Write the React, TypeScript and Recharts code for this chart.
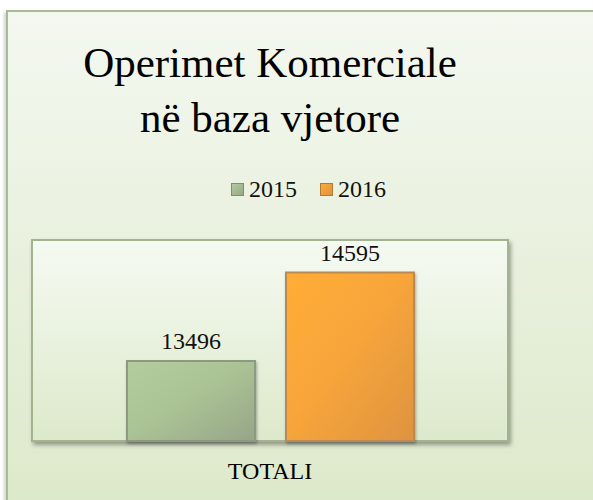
import React from "react";
import { BarChart, Bar, XAxis, YAxis, ReferenceArea, LabelList, Legend } from "recharts";

const categories = ["TOTALI"];
const series2015 = [13496];
const series2016 = [14595];
const seriesNames = ["2015", "2016"];
const titleLines = ["Operimet Komerciale", "në baza vjetore"];
const valueDomain: [number, number] = [12500, 15000];

const data = categories.map((c, i) => ({ name: c, v2015: series2015[i], v2016: series2016[i] }));

const FONT = "'Liberation Serif', 'Times New Roman', serif";

const legendItems = [
  { name: seriesNames[0], fill: "url(#leg2015)", border: "#7f9070" },
  { name: seriesNames[1], fill: "url(#leg2016)", border: "#b07a35" },
];

const LegendContent = () => (
  <div style={{ display: "flex", fontFamily: FONT, fontSize: 24, lineHeight: "28px", color: "#111" }}>
    {legendItems.map((it, i) => (
      <div key={it.name} style={{ display: "flex", alignItems: "flex-start", marginRight: i === 0 ? 23 : 0 }}>
        <svg width={13} height={13} style={{ marginTop: 8, marginRight: 5 }}>
          <rect x={0.5} y={0.5} width={12} height={12} fill={it.fill} stroke={it.border} strokeWidth={1} />
        </svg>
        <span>{it.name}</span>
      </div>
    ))}
  </div>
);

export default function App() {
  return (
    <div style={{ position: "absolute", left: 0, top: 0, width: 593, height: 500, overflow: "hidden", background: "#fff" }}>
      <svg width={0} height={0} style={{ position: "absolute" }}>
        <defs>
          <linearGradient id="plotGrad" x1="0" y1="0" x2="0" y2="1">
            <stop offset="0%" stopColor="#f5faf2" />
            <stop offset="100%" stopColor="#dde9cb" />
          </linearGradient>
          <linearGradient id="g2015" x1="0" y1="0" x2="1" y2="1">
            <stop offset="0%" stopColor="#b4cd9d" />
            <stop offset="45%" stopColor="#abc495" />
            <stop offset="100%" stopColor="#97a588" />
          </linearGradient>
          <linearGradient id="g2016" x1="0" y1="0" x2="1" y2="1">
            <stop offset="0%" stopColor="#ffac38" />
            <stop offset="45%" stopColor="#f8a63a" />
            <stop offset="100%" stopColor="#de9340" />
          </linearGradient>
          <linearGradient id="leg2015" x1="0" y1="0" x2="1" y2="1">
            <stop offset="0%" stopColor="#b4cd9d" />
            <stop offset="100%" stopColor="#97a588" />
          </linearGradient>
          <linearGradient id="leg2016" x1="0" y1="0" x2="1" y2="1">
            <stop offset="0%" stopColor="#ffac38" />
            <stop offset="100%" stopColor="#de9340" />
          </linearGradient>
          <filter id="plotShadow" x="-5%" y="-5%" width="115%" height="120%">
            <feDropShadow dx="2" dy="3" stdDeviation="2" floodColor="#000" floodOpacity="0.35" />
          </filter>
          <filter id="barShadow" x="-10%" y="-10%" width="130%" height="130%">
            <feDropShadow dx="1" dy="2" stdDeviation="1.5" floodColor="#000" floodOpacity="0.3" />
          </filter>
        </defs>
      </svg>
      <div
        style={{
          position: "absolute",
          left: 6,
          top: 10,
          width: 620,
          height: 520,
          boxSizing: "border-box",
          border: "2px solid #a7bb97",
          backgroundImage: "linear-gradient(to bottom, #f4f8f0, #dce8c9)",
          boxShadow: "-2px 2px 3px rgba(0,0,0,0.18)",
        }}
      />
      <div
        style={{
          position: "absolute",
          left: 0,
          top: 35,
          width: 540,
          textAlign: "center",
          fontFamily: FONT,
          fontWeight: "normal",
          fontSize: 43,
          lineHeight: "55px",
          color: "#000",
        }}
      >
        {titleLines.map((l) => (
          <div key={l}>{l}</div>
        ))}
      </div>
      <div style={{ position: "absolute", left: 0, top: 0 }}>
        <BarChart
          width={593}
          height={500}
          data={data}
          margin={{ top: 240, right: 85, bottom: 0, left: 32 }}
          barSize={128}
          barGap={31}
        >
          <XAxis
            dataKey="name"
            axisLine={false}
            tickLine={false}
            height={59}
            tickMargin={15}
            tick={{ fill: "#000", fontSize: 24, fontFamily: FONT }}
          />
          <YAxis hide domain={valueDomain} />
          <ReferenceArea
            y1={valueDomain[0]}
            y2={valueDomain[1]}
            fill="url(#plotGrad)"
            fillOpacity={1}
            stroke="#a3b38f"
            strokeWidth={2}
            filter="url(#plotShadow)"
            ifOverflow="visible"
          />
          <Legend
            layout="vertical"
            verticalAlign="middle"
            align="center"
            content={<LegendContent />}
            wrapperStyle={{ position: "absolute", top: 175, left: 231, width: "auto" }}
          />
          <Bar
            dataKey="v2015"
            name={seriesNames[0]}
            fill="url(#g2015)"
            stroke="#8b9a80"
            strokeWidth={2}
            filter="url(#barShadow)"
            isAnimationActive={false}
          >
            <LabelList dataKey="v2015" position="top" offset={12} fill="#111" fontSize={24} fontFamily={FONT} />
          </Bar>
          <Bar
            dataKey="v2016"
            name={seriesNames[1]}
            fill="url(#g2016)"
            stroke="#b98a52"
            strokeWidth={2}
            filter="url(#barShadow)"
            isAnimationActive={false}
          >
            <LabelList dataKey="v2016" position="top" offset={12} fill="#111" fontSize={24} fontFamily={FONT} />
          </Bar>
        </BarChart>
      </div>
    </div>
  );
}
